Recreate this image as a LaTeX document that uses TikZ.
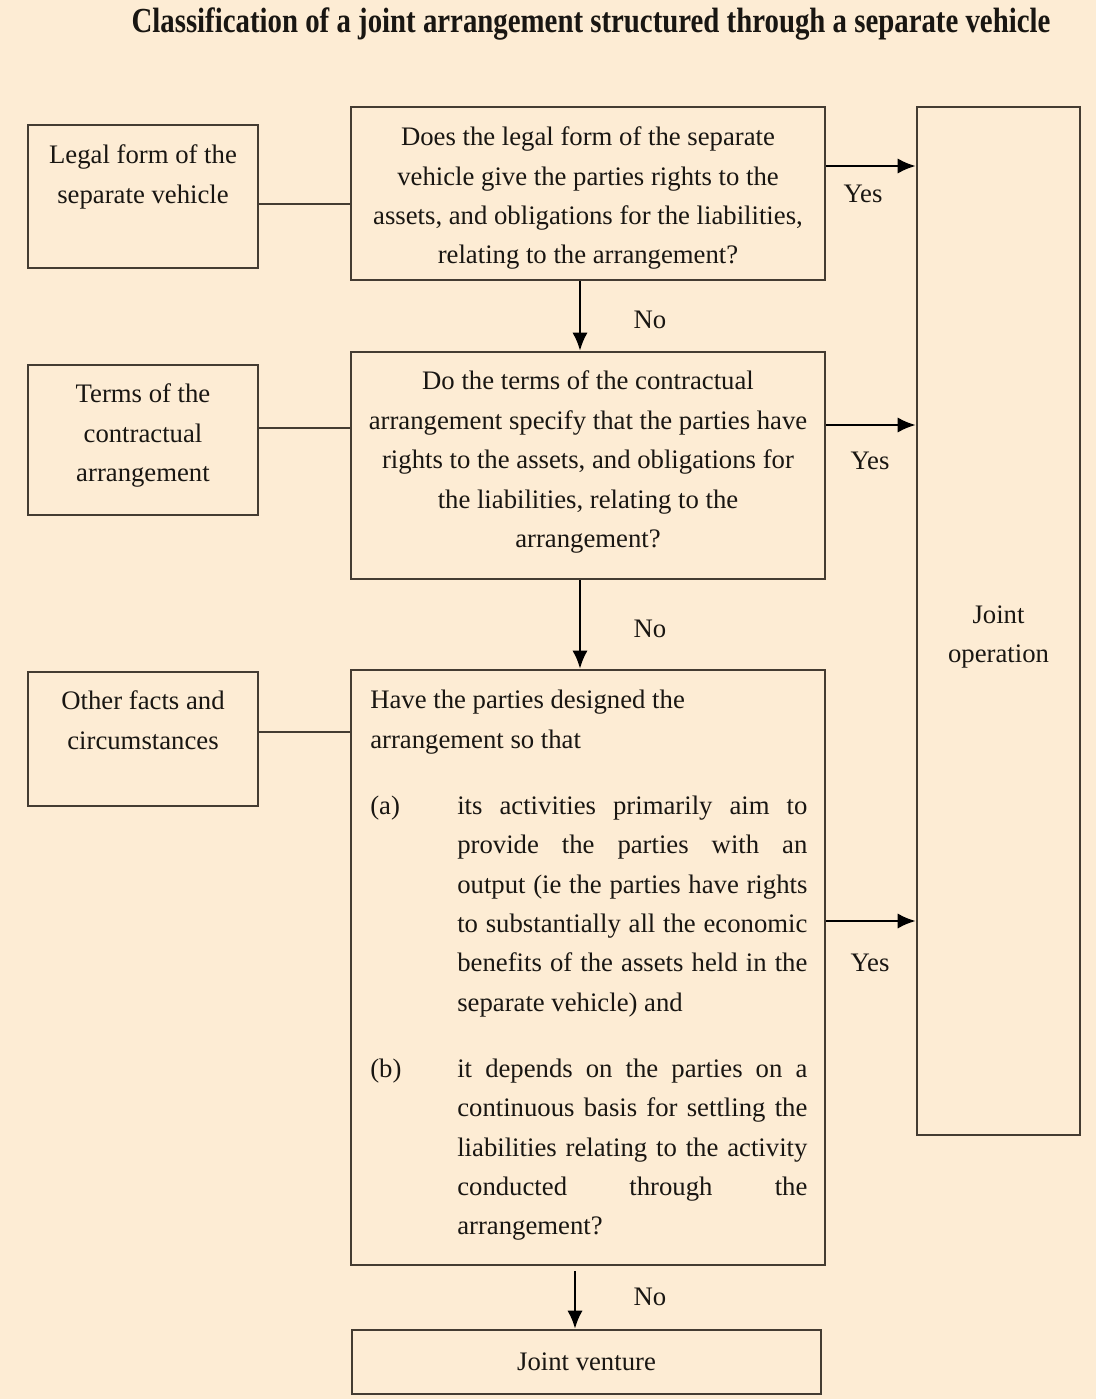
\documentclass[tikz,border=0pt]{standalone}
\usepackage{fontspec}
\setmainfont{Liberation Serif}
\usetikzlibrary{positioning,arrows.meta}
\definecolor{paper}{RGB}{253,236,212}
\definecolor{frame}{RGB}{68,60,50}
\definecolor{ink}{RGB}{25,22,18}
\tikzstyle{every node}=[text=ink, font=\fontsize{19}{28}\selectfont]
\tikzstyle{box}=[draw=frame, line width=1.6pt, rectangle, inner sep=0pt]
\tikzstyle{boxtext}=[align=center, inner sep=0pt]
\tikzstyle{link}=[draw=frame, line width=1.6pt]
\tikzstyle{arrow}=[draw=black, line width=2pt, -{Latex[length=13pt, width=11pt]}]

\begin{document}
\begin{tikzpicture}[x=0.025cm, y=-0.025cm]
    \fill[paper] (0,0) rectangle (1096,1399);
    \useasboundingbox (0,0) rectangle (1096,1399);

    \node[font=\fontsize{25}{28}\bfseries] (title) at (591,24) {\scalebox{0.82}[1]{Classification of a joint arrangement structured through a separate vehicle}};

    \node[box, minimum width=5.75cm, minimum height=3.575cm] (legal) at (143,196.5) {};
    \node[box, minimum width=5.75cm, minimum height=3.75cm] (terms) at (143,440) {};
    \node[box, minimum width=5.75cm, minimum height=3.35cm] (facts) at (143,739) {};
    \node[box, minimum width=11.85cm, minimum height=4.325cm] (q1) at (588,193.5) {};
    \node[box, minimum width=11.85cm, minimum height=5.675cm] (q2) at (588,465.5) {};
    \node[box, minimum width=11.85cm, minimum height=14.875cm] (q3) at (588,967.5) {};
    \node[box, minimum width=11.725cm, minimum height=1.6cm] (jv) at (586.5,1362) {Joint venture};
    \node[box, minimum width=4.075cm, minimum height=25.7cm] (jo) at (998.5,621) {};

    \node[boxtext, below=0.52cm of legal.north] (legaltxt) {Legal form of the\\separate vehicle};
    \node[boxtext, below=0.5cm of terms.north] (termstxt) {Terms of the\\contractual\\arrangement};
    \node[boxtext, below=0.5cm of facts.north] (factstxt) {Other facts and\\circumstances};
    \node[boxtext, below=0.52cm of q1.north] (q1txt) {Does the legal form of the separate\\vehicle give the parties rights to the\\assets, and obligations for the liabilities,\\relating to the arrangement?};
    \node[boxtext, below=0.5cm of q2.north] (q2txt) {Do the terms of the contractual\\arrangement specify that the parties have\\rights to the assets, and obligations for\\the liabilities, relating to the\\arrangement?};
    \node[boxtext, align=justify, text width=10.925cm, anchor=north west] (q3txt) at (370,690) {%
        Have the parties designed the\newline arrangement so that\par\vspace{19pt}
        \hangindent=2.175cm\hangafter=0\noindent\llap{\makebox[2.175cm][l]{(a)}}its activities primarily aim to\linebreak
        provide the parties with an\linebreak output (ie the parties have rights\linebreak
        to substantially all the economic\linebreak benefits of the assets held in the\linebreak
        separate vehicle) and\par\vspace{19pt}
        \hangindent=2.175cm\hangafter=0\noindent\llap{\makebox[2.175cm][l]{(b)}}it depends on the parties on a\linebreak
        continuous basis for settling the\linebreak liabilities relating to the activity\linebreak
        conducted through the\linebreak arrangement?\par};
    \node[boxtext] (jotxt) at ([yshift=-0.4cm]jo.center) {Joint\\operation};

    \coordinate (legalrow) at (0,204);
    \coordinate (termsrow) at (0,428);
    \coordinate (factsrow) at (0,732);
    \draw[link] (legal.east |- legalrow) -- (q1.west |- legalrow);
    \draw[link] (terms.east |- termsrow) -- (q2.west |- termsrow);
    \draw[link] (facts.east |- factsrow) -- (q3.west |- factsrow);

    \coordinate (down1) at (580,0);
    \coordinate (down3) at (575,0);
    \draw[arrow] (q1.south -| down1) -- (q2.north -| down1);
    \draw[arrow] (q2.south -| down1) -- (q3.north -| down1);
    \draw[arrow] ([yshift=-0.125cm]q3.south -| down3) -- (jv.north -| down3);

    \coordinate (yes1) at (0,166);
    \coordinate (yes2) at (0,425);
    \coordinate (yes3) at (0,921);
    \draw[arrow] (q1.east |- yes1) -- (jo.west |- yes1);
    \draw[arrow] (q2.east |- yes2) -- (jo.west |- yes2);
    \draw[arrow] (q3.east |- yes3) -- (jo.west |- yes3);

    \node (no1) at (650,320) {No};
    \node (no2) at (650,629) {No};
    \node (no3) at (650,1297) {No};
    \node (yeslab1) at (863,194) {Yes};
    \node (yeslab2) at (870,461) {Yes};
    \node (yeslab3) at (870,963) {Yes};
\end{tikzpicture}
\end{document}
